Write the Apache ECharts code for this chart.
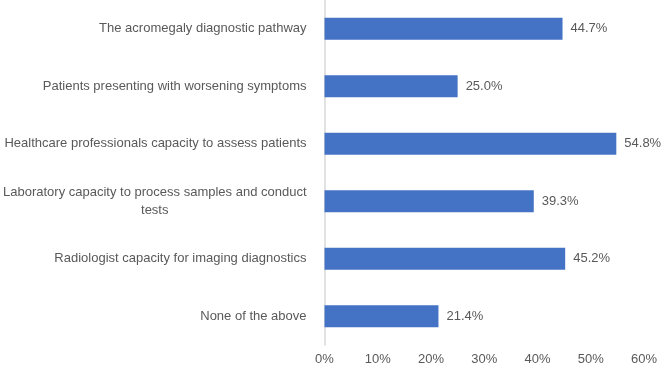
<!DOCTYPE html>
<html>
<head>
<meta charset="utf-8">
<script src="https://cdn.jsdelivr.net/npm/echarts@6/dist/echarts.min.js"></script>
<style>
  html, body { margin: 0; padding: 0; background: #fff; }
  #chart { width: 661px; height: 369px; }
</style>
</head>
<body>
<div id="chart"></div>
<script>
// categories, top to bottom
const categories = [
    'The acromegaly diagnostic pathway',
    'Patients presenting with worsening symptoms',
    'Healthcare professionals capacity to assess patients',
    'Laboratory capacity to process samples and conduct\ntests',
    'Radiologist capacity for imaging diagnostics',
    'None of the above'
];
const values = [44.7, 25.0, 54.8, 39.3, 45.2, 21.4];
const xTicks = [0, 10, 20, 30, 40, 50, 60];

const textColor = '#595959';
const font = '"Liberation Sans", Arial, sans-serif';

const myChart = echarts.init(document.getElementById('chart'));

const option = {
    animation: false,
    backgroundColor: '#fff',
    grid: { left: 320, right: 17, top: 0, bottom: 24 },
    xAxis: {
        type: 'value',
        min: xTicks[0],
        max: xTicks[xTicks.length - 1],
        interval: 10,
        axisLine: { show: false },
        axisTick: { show: false },
        splitLine: { show: false },
        axisLabel: {
            color: textColor,
            fontFamily: font,
            fontSize: 13,
            margin: 8,
            formatter: v => v + '%'
        }
    },
    yAxis: {
        type: 'category',
        inverse: true,
        data: categories,
        axisLine: { show: true, lineStyle: { color: '#d9d9d9', width: 1.5 } },
        axisTick: { show: false },
        axisLabel: {
            color: textColor,
            fontFamily: font,
            fontSize: 13,
            margin: 18,
            lineHeight: 18,
            formatter: (val) => {
                // 多行标签居中
                if (val.indexOf('\n') >= 0) {
                    return val.split('\n').map(s => '{c|' + s + '}').join('\n');
                }
                return val;
            },
            rich: {
                c: { align: 'center', color: textColor, fontFamily: font, fontSize: 13, lineHeight: 18 }
            }
        }
    },
    series: [
        {
            type: 'bar',
            data: values,
            barWidth: 22,
            itemStyle: { color: '#4472C4' },
            label: {
                show: true,
                position: 'right',
                distance: 8,
                color: textColor,
                fontFamily: font,
                fontSize: 13,
                formatter: p => p.value.toFixed(1) + '%'
            }
        }
    ]
};

myChart.setOption(option);
</script>
</body>
</html>
